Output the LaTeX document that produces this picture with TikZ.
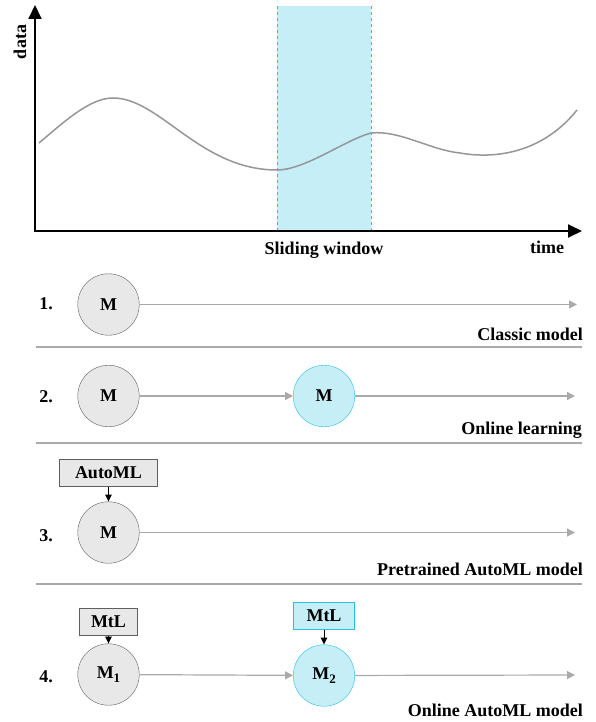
\documentclass[tikz,border=0pt]{standalone}
\usepackage{fontspec}
\setmainfont{Liberation Serif}
\usetikzlibrary{arrows.meta}
\definecolor{mygray}{RGB}{232,232,232}
\definecolor{mydarkgray}{RGB}{95,95,95}
\definecolor{mylinegray}{RGB}{170,170,170}
\definecolor{mycurve}{RGB}{150,150,150}
\definecolor{mylightcyan}{RGB}{198,238,247}
\definecolor{mycyan}{RGB}{40,190,230}
\newcommand{\modelsize}{61.5pt}
\newcommand{\txt}{\fontsize{18}{20}\selectfont\bfseries}
\newcommand{\msub}[1]{M\raisebox{-0.45ex}{\fontsize{13}{13}\selectfont #1}}
\tikzset{
    common/.style={font=\txt, inner sep=1pt},
    model/.style={common, circle, draw=mydarkgray, fill=mygray, minimum size=\modelsize},
    onlinemodel/.style={model, draw=mycyan, fill=mylightcyan},
    tool/.style={common, rectangle, draw=mydarkgray, fill=mygray, minimum height=27pt},
    onlinetool/.style={tool, draw=mycyan, fill=mylightcyan},
    flow/.style={mylinegray, line width=1.2pt, -{Triangle[length=8pt, width=8pt]}},
    feed/.style={black, line width=1pt, -{Triangle[length=7pt, width=6.5pt]}},
    sep/.style={mylinegray, line width=1.2pt},
    caption/.style={common, anchor=east},
    axis/.style={black, line width=2pt, {Triangle[length=14pt, width=13pt]}-{Triangle[length=14pt, width=13pt]}}
}

\begin{document}
\begin{tikzpicture}[x=1pt, y=-1pt]
    \useasboundingbox (0,0) rectangle (596,722);

    \fill[mylightcyan] (277,6) rectangle (371,231);
    \draw[mycyan, dashed, line width=0.8pt] (277,6) -- (277,231) (371,6) -- (371,231);
    \draw[mycurve, line width=1.5pt]
        (39,143) .. controls (65,121) and (90,98) .. (113,98)
        .. controls (160,98) and (200,170) .. (277,170)
        .. controls (305,170) and (345,140) .. (371,133)
        .. controls (400,130) and (430,150) .. (460,153)
        .. controls (500,160) and (545,150) .. (577,110);

    \coordinate (origin) at (35,231);
    \coordinate (ytip) at (35,5);
    \coordinate (xtip) at (582,231);
    \draw[axis] (ytip) -- (origin) -- (xtip);
    \node[common, rotate=90] (data) at (20,42) {data};
    \node[common] (window) at (324,250) {Sliding window};
    \node[common] (time) at (547,247) {time};

    \node[common] (n1) at (46,304) {1.};
    \node[model] (m1) at (108.5,304.5) {M};
    \coordinate (e1) at (577,304.5);
    \draw[flow] (m1) -- (e1);
    \node[caption] (c1) at (584,334) {Classic model};
    \draw[sep] (36,347) -- (582,347);

    \node[common] (n2) at (46,397) {2.};
    \node[model] (m2a) at (108.5,396) {M};
    \node[onlinemodel] (m2b) at (324,396) {M};
    \coordinate (e2) at (575,396);
    \draw[flow] (m2a) -- (m2b);
    \draw[flow] (m2b) -- (e2);
    \node[caption] (c2) at (583,430) {Online learning};
    \draw[sep] (36,443) -- (582,443);

    \node[tool, minimum width=98pt] (automl) at (108.5,473) {AutoML};
    \node[common] (n3) at (46,536) {3.};
    \node[model] (m3) at (108.5,532.5) {M};
    \coordinate (e3) at (575,532.5);
    \draw[feed] (automl) -- (m3);
    \draw[flow] (m3) -- (e3);
    \node[caption] (c3) at (584,569) {Pretrained AutoML model};
    \draw[sep] (36,584) -- (582,584);

    \node[tool, minimum width=58pt] (mtla) at (108.5,622) {MtL};
    \node[onlinetool, minimum width=61pt] (mtlb) at (324,616) {MtL};
    \node[common] (n4) at (46,677) {4.};
    \node[model] (m4a) at (108.5,674.5) {\msub{1}};
    \node[onlinemodel] (m4b) at (324,675.5) {\msub{2}};
    \coordinate (e4) at (575,675);
    \draw[feed] (mtla) -- (m4a);
    \draw[feed] (mtlb) -- (m4b);
    \draw[flow] (m4a) -- (m4b);
    \draw[flow] (m4b) -- (e4);
    \node[caption] (c4) at (584,710) {Online AutoML model};
\end{tikzpicture}
\end{document}
